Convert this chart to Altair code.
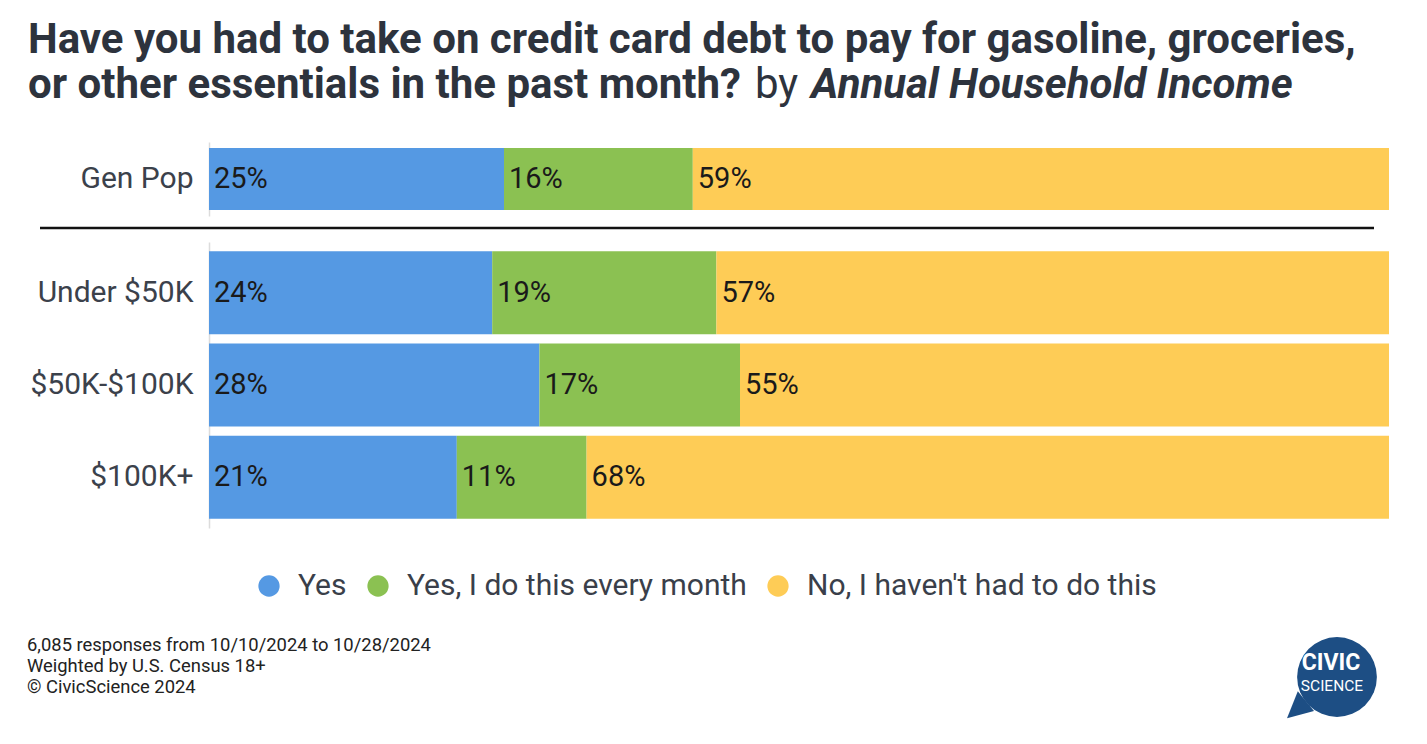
import altair as alt
import pandas as pd

# ---------------- data ----------------
top_groups = ["Gen Pop"]
income_groups = ["Under $50K", "$50K-$100K", "$100K+"]
responses = ["Yes", "Yes, I do this every month", "No, I haven't had to do this"]
colors = ["#5599E3", "#8BC152", "#FECC56"]

top_yes = [25]
top_monthly = [16]
top_no = [59]

inc_yes = [24, 28, 21]
inc_monthly = [19, 17, 11]
inc_no = [57, 55, 68]

title_line1 = "Have you had to take on credit card debt to pay for gasoline, groceries,"
title_line2 = "or other essentials in the past month?"
title_by = "by"
title_dim = "Annual Household Income"
footer_lines = [
    "6,085 responses from 10/10/2024 to 10/28/2024",
    "Weighted by U.S. Census 18+",
    "\u00a9 CivicScience 2024",
]
logo_words = ["CIVIC", "SCIENCE"]

FONT = "Roboto"
W = 1180
TITLE_SIZE = 42


def to_long(groups, yes, monthly, no):
    rows = []
    for i, g in enumerate(groups):
        for j, (r, v) in enumerate(zip(responses, [yes[i], monthly[i], no[i]])):
            rows.append({"group": g, "response": r, "order": j, "value": v, "label": f"{v}%"})
    return pd.DataFrame(rows)


color_enc = alt.Color(
    "response:N",
    scale=alt.Scale(domain=responses, range=colors),
    legend=alt.Legend(
        title=None, orient="none", legendX=45, legendY=429, direction="horizontal",
        symbolType="circle", symbolSize=452, symbolStrokeWidth=0, symbolOpacity=1,
        labelFontSize=30, labelColor="#3a3f4a", labelOffset=14, columnPadding=16,
        labelFont=FONT, labelLimit=0,
    ),
)


def bar_layers(df, groups, pin, pout):
    base = alt.Chart(df).transform_stack(
        stack="value", as_=["x0", "x1"], groupby=["group"],
        sort=[alt.SortField("order", order="ascending")],
    )
    y = alt.Y(
        "group:N", sort=groups, title=None,
        scale=alt.Scale(paddingInner=pin, paddingOuter=pout),
        axis=alt.Axis(labelFontSize=30, labelColor="#3b414b", labelPadding=16, ticks=False,
                      domainColor="#dcdcdc", domainWidth=1.5, labelFont=FONT, labelLimit=0,
                      grid=False),
    )
    xs = alt.X("x0:Q", scale=alt.Scale(domain=[0, 100], nice=False), axis=None)
    b = base.mark_bar().encode(x=xs, x2="x1:Q", y=y, color=color_enc)
    t = base.mark_text(align="left", baseline="middle", dx=5, fontSize=29,
                       color="#1a1a1a", font=FONT).encode(x=xs, y=y, text="label:N")
    return b, t


one = pd.DataFrame({"k": [0]})

# ---------------- top panel ----------------
tb, tt = bar_layers(to_long(top_groups, top_yes, top_monthly, top_no), top_groups, 0.16, 0.08)

sep = alt.Chart(one).mark_rule(color="#111111", strokeWidth=2.5).encode(
    x=alt.value(-169), x2=alt.value(1165), y=alt.value(86))


def title_text(txt, x, y, weight="bold", style="normal"):
    return alt.Chart(pd.DataFrame({"t": [txt]})).mark_text(
        align="left", baseline="alphabetic", fontSize=TITLE_SIZE, fontWeight=weight,
        fontStyle=style, color="#2d333d", font=FONT
    ).encode(x=alt.value(x), y=alt.value(y), text="t:N")


t1 = title_text(title_line1, -181, -89)
t2 = title_text(title_line2, -181, -44)
t3 = title_text(title_by, 546, -44, weight="normal")
t4 = title_text(title_dim, 602, -44, style="italic")

top = alt.layer(tb, tt, sep, t1, t2, t3, t4).properties(width=W, height=74)

# ---------------- bottom panel ----------------
bb, bt = bar_layers(to_long(income_groups, inc_yes, inc_monthly, inc_no), income_groups, 0.1, 0.1)

footer = alt.Chart(pd.DataFrame({"t": ["\n".join(footer_lines)]})).mark_text(
    align="left", baseline="alphabetic", fontSize=18.4, color="#222222", font=FONT,
    lineBreak="\n", lineHeight=21,
).encode(x=alt.value(-182), y=alt.value(409), text="t:N")

logo_circle = alt.Chart(one).mark_circle(size=6362, color="#1d4e84", opacity=1).encode(
    x=alt.value(1128), y=alt.value(435))
logo_tail = alt.Chart(one).mark_point(
    shape="M -1 0.9 L -0.4 -0.6 L 0.5 0.5 Z", size=1296, filled=True, color="#1d4e84", opacity=1
).encode(x=alt.value(1096), y=alt.value(460))
logo_t1 = alt.Chart(pd.DataFrame({"t": [logo_words[0]]})).mark_text(
    align="center", baseline="alphabetic", fontSize=23, fontWeight="bold", color="white", font=FONT
).encode(x=alt.value(1122), y=alt.value(428), text="t:N")
logo_t2 = alt.Chart(pd.DataFrame({"t": [logo_words[1]]})).mark_text(
    align="center", baseline="alphabetic", fontSize=15.5, color="white", font=FONT
).encode(x=alt.value(1123), y=alt.value(449), text="t:N")

bottom = alt.layer(bb, bt, footer, logo_circle, logo_tail, logo_t1, logo_t2).properties(width=W, height=286)

chart = alt.vconcat(top, bottom, spacing=26, bounds="flush").properties(
    padding={"left": 27, "top": 19, "right": 20, "bottom": 10}
).configure(font=FONT).configure_view(stroke=None)

chart.save("out.html", embed_options={"renderer": "svg", "actions": False})
